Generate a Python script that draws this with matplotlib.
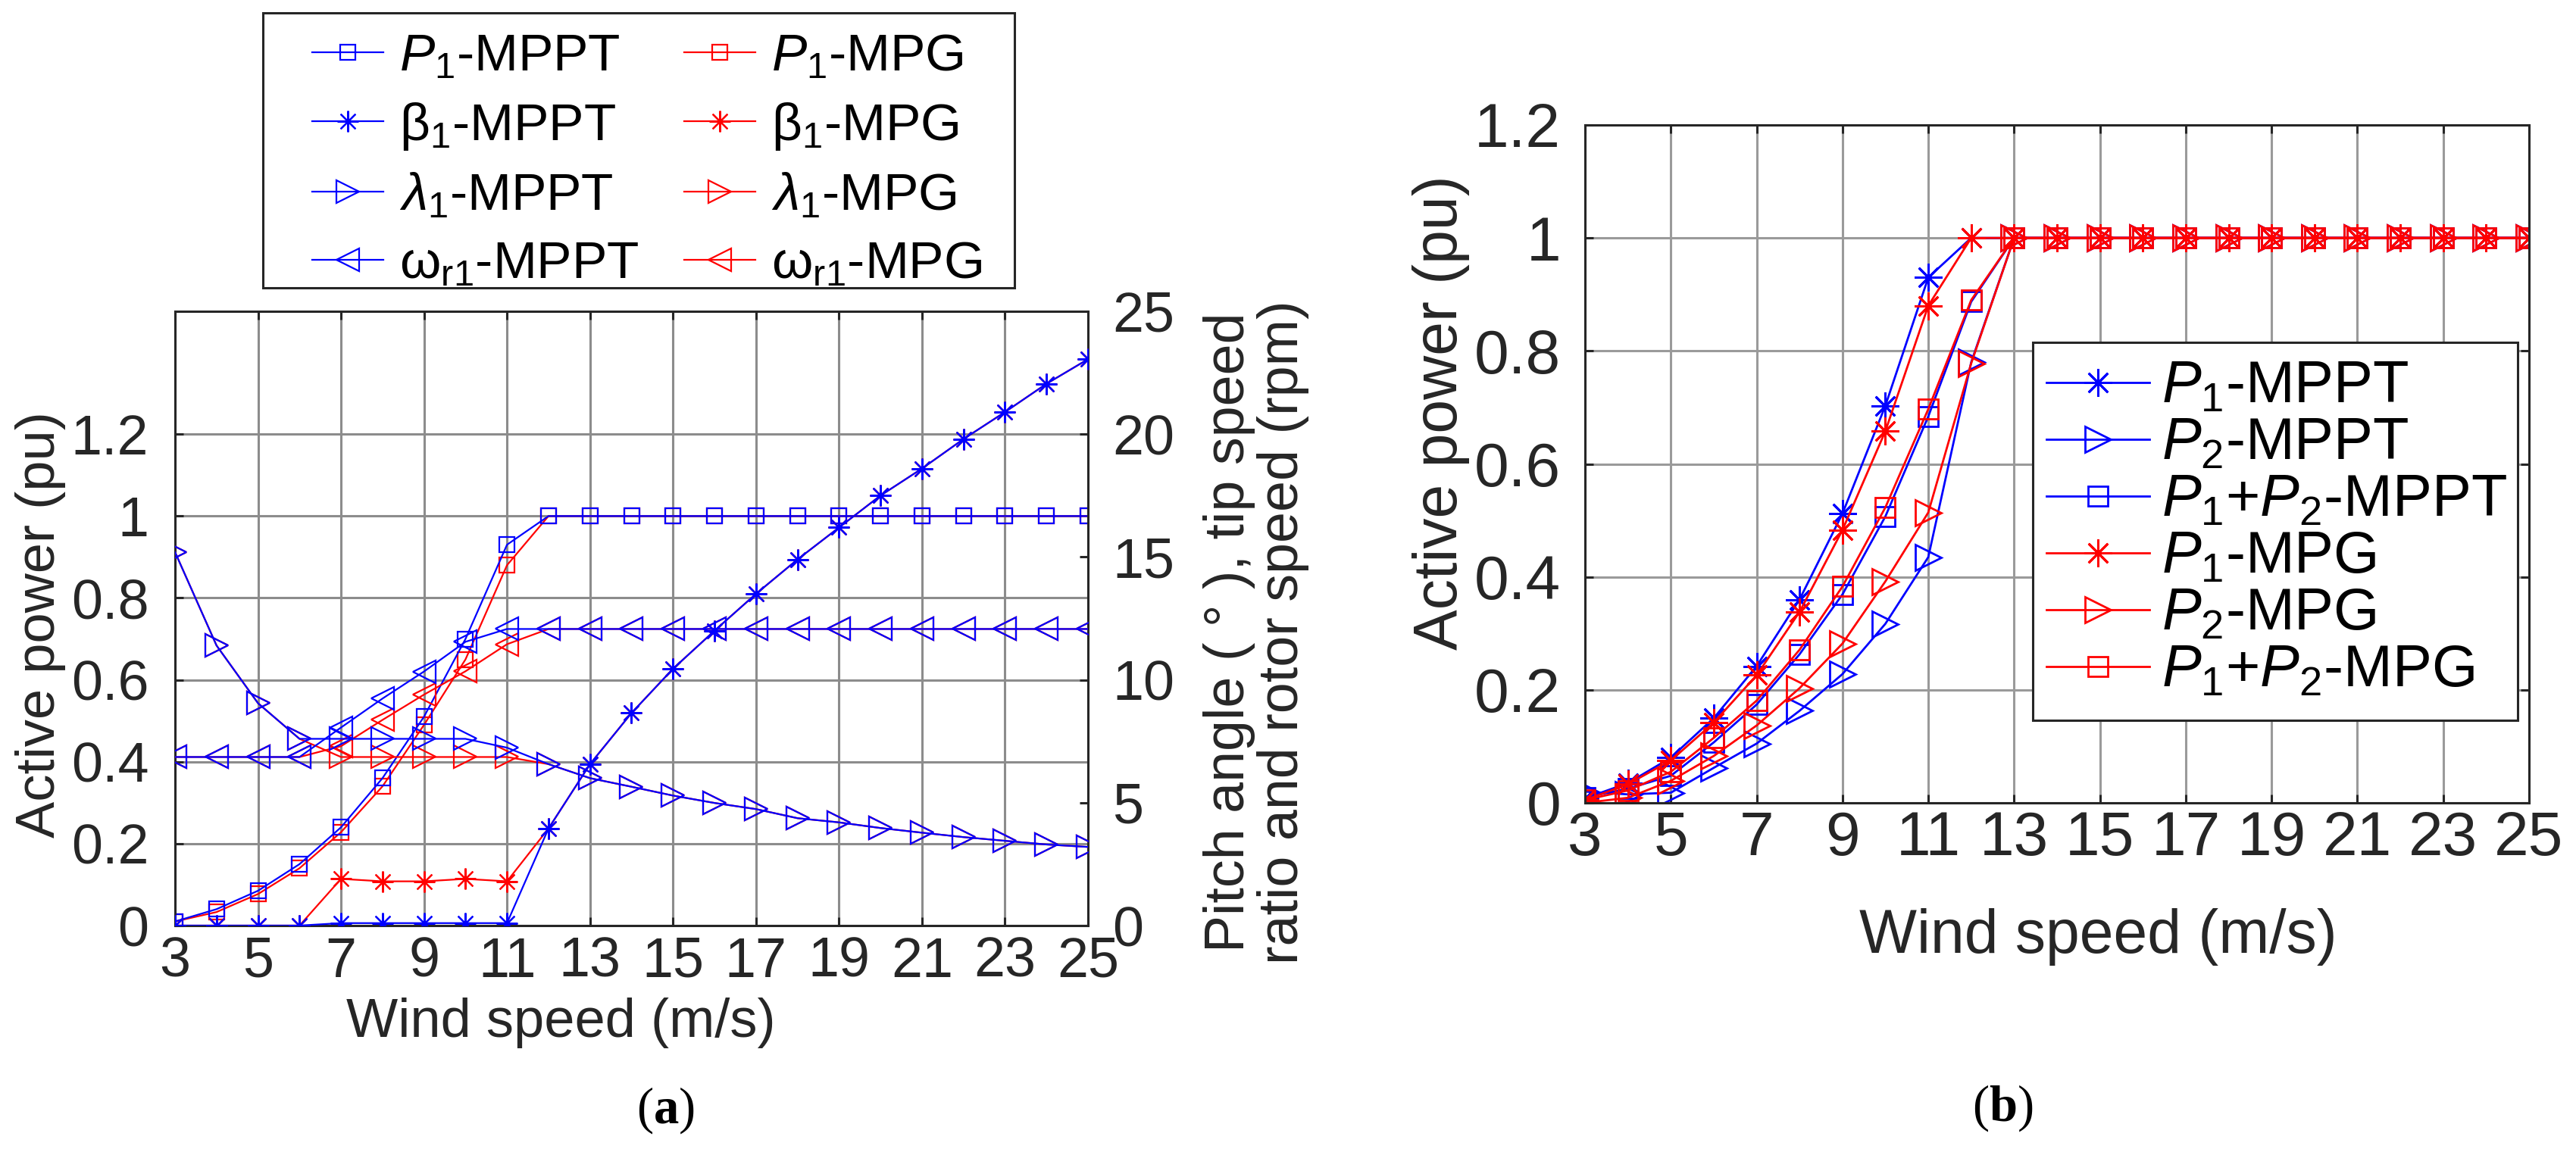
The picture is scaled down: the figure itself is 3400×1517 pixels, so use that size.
import matplotlib
matplotlib.use("Agg")
import matplotlib.pyplot as plt
from matplotlib.patches import Rectangle

plt.rcParams['font.family'] = ['Liberation Sans', 'DejaVu Sans']
plt.rcParams['mathtext.fontset'] = 'custom'
plt.rcParams['mathtext.rm'] = 'Liberation Sans'
plt.rcParams['mathtext.it'] = 'Liberation Sans:italic'
plt.rcParams['mathtext.bf'] = 'Liberation Serif:bold'

# ---------------- data ----------------
wind = list(range(3, 26))
xticks = list(range(3, 26, 2))

# panel (a)
p1_mppt_a = [0.01, 0.04, 0.085, 0.15, 0.24, 0.36, 0.51, 0.70, 0.93,
             1, 1, 1, 1, 1, 1, 1, 1, 1, 1, 1, 1, 1, 1]
p1_mpg_a = [0.01, 0.033, 0.077, 0.14, 0.228, 0.34, 0.49, 0.65, 0.88,
            1, 1, 1, 1, 1, 1, 1, 1, 1, 1, 1, 1, 1, 1]
beta_mppt = [0, 0, 0, 0, 0.1, 0.1, 0.1, 0.1, 0.1,
             3.95, 6.57, 8.65, 10.45, 12.0, 13.5, 14.9, 16.2, 17.5, 18.6, 19.8, 20.9, 22.05, 23.05]
beta_mpg = [0, 0, 0, 0, 1.9, 1.8, 1.8, 1.9, 1.8,
            3.95, 6.57, 8.65, 10.45, 12.0, 13.5, 14.9, 16.2, 17.5, 18.6, 19.8, 20.9, 22.05, 23.05]
lam_mppt = [15.2, 11.4, 9.05, 7.6, 7.6, 7.6, 7.6, 7.6, 7.24,
            6.57, 6.0, 5.65, 5.29, 4.99, 4.74, 4.37, 4.2, 3.97, 3.78, 3.6, 3.45, 3.3, 3.2]
lam_mpg = [15.2, 11.4, 9.05, 7.6, 6.86, 6.86, 6.86, 6.86, 6.86,
           6.57, 6.0, 5.65, 5.29, 4.99, 4.74, 4.37, 4.2, 3.97, 3.78, 3.6, 3.45, 3.3, 3.2]
omg_mppt = [6.86, 6.86, 6.86, 6.86, 8.06, 9.24, 10.34, 11.55, 12.07,
            12.07, 12.07, 12.07, 12.07, 12.07, 12.07, 12.07, 12.07, 12.07, 12.07, 12.07, 12.07, 12.07, 12.07]
omg_mpg = [6.86, 6.86, 6.86, 6.86, 7.3, 8.37, 9.4, 10.35, 11.45,
           12.07, 12.07, 12.07, 12.07, 12.07, 12.07, 12.07, 12.07, 12.07, 12.07, 12.07, 12.07, 12.07, 12.07]

# panel (b)
p1_mppt_b = [0.008, 0.035, 0.08, 0.15, 0.242, 0.36, 0.512, 0.703, 0.93,
             1, 1, 1, 1, 1, 1, 1, 1, 1, 1, 1, 1, 1, 1]
p2_mppt_b = [0.02, 0.015, 0.018, 0.062, 0.105, 0.163, 0.228, 0.317, 0.435, 0.78,
             1, 1, 1, 1, 1, 1, 1, 1, 1, 1, 1, 1, 1]
p12_mppt_b = [0.01, 0.025, 0.048, 0.107, 0.174, 0.263, 0.369, 0.507, 0.684, 0.887,
              1, 1, 1, 1, 1, 1, 1, 1, 1, 1, 1, 1, 1]
p1_mpg_b = [0.005, 0.033, 0.075, 0.142, 0.226, 0.338, 0.483, 0.658, 0.88,
            1, 1, 1, 1, 1, 1, 1, 1, 1, 1, 1, 1, 1, 1]
p2_mpg_b = [0.0, 0.009, 0.039, 0.083, 0.137, 0.203, 0.282, 0.392, 0.514, 0.778,
            1, 1, 1, 1, 1, 1, 1, 1, 1, 1, 1, 1, 1]
p12_mpg_b = [0.005, 0.022, 0.055, 0.115, 0.181, 0.271, 0.383, 0.523, 0.697, 0.89,
             1, 1, 1, 1, 1, 1, 1, 1, 1, 1, 1, 1, 1]

left_ticks = [0, 0.2, 0.4, 0.6, 0.8, 1.0, 1.2]
left_labels = ['0', '0.2', '0.4', '0.6', '0.8', '1', '1.2']
right_ticks = [0, 5, 10, 15, 20, 25]

labels_a = [r'$P_1$-MPPT', r'$\mathrm{\beta}_1$-MPPT', r'$\mathit{\lambda}_1$-MPPT', r'$\mathrm{\omega}_{\mathrm{r1}}$-MPPT',
            r'$P_1$-MPG', r'$\mathrm{\beta}_1$-MPG', r'$\mathit{\lambda}_1$-MPG', r'$\mathrm{\omega}_{\mathrm{r1}}$-MPG']
labels_b = [r'$P_1$-MPPT', r'$P_2$-MPPT', r'$P_1$+$P_2$-MPPT',
            r'$P_1$-MPG', r'$P_2$-MPG', r'$P_1$+$P_2$-MPG']

# ---------------- figure ----------------
W, H = 3400, 1517
fig = plt.figure(figsize=(W / 100, H / 100), dpi=100)
TXT = '#262626'
AST = (8, 2, 0)


def fx(px):
    return px / W


def fy(py):
    return 1 - py / H


def style_axes(ax, fs, xpad, ypad, gridc):
    for s in ax.spines.values():
        s.set_linewidth(2.2)
        s.set_color(TXT)
    ax.tick_params(axis='both', direction='in', length=8, width=2.2, colors=TXT,
                   labelsize=fs, top=True)
    ax.tick_params(axis='x', pad=xpad)
    ax.tick_params(axis='y', pad=ypad)
    ax.set_axisbelow(True)
    ax.grid(True, color=gridc, linewidth=2.2)


# ----- panel (a) -----
axa = fig.add_axes([fx(231), fy(1222), fx(1205), 811 / H])
axa2 = axa.twinx()
blue, red = (0, 0, 1), (1, 0, 0)
lwa, mewa = 1.6, 1.6

axa.plot(wind, p1_mpg_a, color=red, marker='s', ms=15, mfc='none', lw=lwa, mew=mewa)
hP1 = axa.plot(wind, p1_mppt_a, color=blue, marker='s', ms=15, mfc='none', lw=lwa, mew=mewa)[0]
hP1g = axa.plot([], [], color=red, marker='s', ms=15, mfc='none', lw=lwa, mew=mewa)[0]

axa2.plot(wind, beta_mpg, color=red, marker=AST, ms=20, lw=lwa, mew=mewa)
axa2.plot(wind, lam_mpg, color=red, marker='>', ms=22, mfc='none', lw=lwa, mew=mewa)
axa2.plot(wind, omg_mpg, color=red, marker='<', ms=22, mfc='none', lw=lwa, mew=mewa)
hB = axa2.plot(wind, beta_mppt, color=blue, marker=AST, ms=20, lw=lwa, mew=mewa)[0]
hL = axa2.plot(wind, lam_mppt, color=blue, marker='>', ms=22, mfc='none', lw=lwa, mew=mewa)[0]
hO = axa2.plot(wind, omg_mppt, color=blue, marker='<', ms=22, mfc='none', lw=lwa, mew=mewa)[0]
hBg = axa2.plot([], [], color=red, marker=AST, ms=20, lw=lwa, mew=mewa)[0]
hLg = axa2.plot([], [], color=red, marker='>', ms=22, mfc='none', lw=lwa, mew=mewa)[0]
hOg = axa2.plot([], [], color=red, marker='<', ms=22, mfc='none', lw=lwa, mew=mewa)[0]

axa.set_xlim(3, 25)
axa.set_ylim(0, 1.5)
axa2.set_ylim(0, 25)
axa.set_xticks(xticks)
axa.set_yticks(left_ticks)
axa.set_yticklabels(left_labels)
axa2.set_yticks(right_ticks)
style_axes(axa, 53, 10, 25, '#8c8c8c')
axa.tick_params(axis='y', right=False)
for s in axa2.spines.values():
    s.set_visible(False)
axa2.tick_params(axis='y', direction='in', length=8, width=2.2, colors=TXT, labelsize=53, pad=23)

fig.text(fx(54), fy(825), 'Active power (pu)', rotation=90, ha='center', va='center',
         fontsize=52, color=TXT)
fig.text(fx(740), fy(1350), 'Wind speed (m/s)', ha='center', va='center', fontsize=52, color=TXT)
fig.text(fx(1658), fy(835), 'Pitch angle ( ° ), tip speed\nratio and rotor speed (rpm)',
         rotation=90, ha='center', va='center', multialignment='center', fontsize=53,
         color=TXT, linespacing=1.02)

hand_a = [hP1, hB, hL, hO, hP1g, hBg, hLg, hOg]
lega = fig.legend(hand_a, labels_a, ncol=2, loc='upper left',
                  bbox_to_anchor=(fx(412), fy(43)), frameon=False, fontsize=50,
                  handlelength=1.36, handletextpad=0.3, columnspacing=0.85,
                  labelspacing=0.37, borderpad=0, borderaxespad=0)
fig.add_artist(Rectangle((fx(347), fy(380)), fx(1339 - 347), (380 - 17) / H,
                         transform=fig.transFigure, fill=False, ec=TXT, lw=2.2))

# ----- panel (b) -----
axb = fig.add_axes([fx(2092), fy(1060), fx(1246), 895 / H])
lwb, mewb = 2.0, 2.0
h1 = axb.plot(wind, p1_mppt_b, color=blue, marker=AST, ms=26, lw=lwb, mew=mewb)[0]
h2 = axb.plot(wind, p2_mppt_b, color=blue, marker='>', ms=25, mfc='none', lw=lwb, mew=mewb)[0]
h3 = axb.plot(wind, p12_mppt_b, color=blue, marker='s', ms=19, mfc='none', lw=lwb, mew=mewb)[0]
h4 = axb.plot(wind, p1_mpg_b, color=red, marker=AST, ms=26, lw=lwb, mew=mewb)[0]
h5 = axb.plot(wind, p2_mpg_b, color=red, marker='>', ms=25, mfc='none', lw=lwb, mew=mewb)[0]
h6 = axb.plot(wind, p12_mpg_b, color=red, marker='s', ms=19, mfc='none', lw=lwb, mew=mewb)[0]
axb.set_xlim(3, 25)
axb.set_ylim(0, 1.2)
axb.set_xticks(xticks)
axb.set_yticks(left_ticks)
axb.set_yticklabels(left_labels)
style_axes(axb, 59, 7, 23, '#9a9a9a')
axb.tick_params(axis='y', right=True)

fig.text(fx(1902), fy(545), 'Active power (pu)', rotation=90, ha='center', va='center',
         fontsize=58, color=TXT)
fig.text(fx(2769), fy(1237), 'Wind speed (m/s)', ha='center', va='center', fontsize=58, color=TXT)

axb.add_artist(Rectangle((fx(2683), fy(951)), fx(3323 - 2683), (951 - 452) / H,
                         transform=fig.transFigure, fc='white', ec=TXT, lw=2.2,
                         zorder=4, clip_on=False))
legb = axb.legend([h1, h2, h3, h4, h5, h6], labels_b, loc='upper left',
                  bbox_to_anchor=(fx(2701), fy(475)), bbox_transform=fig.transFigure,
                  frameon=False, fontsize=56, handlelength=1.75, handletextpad=0.2,
                  labelspacing=0.025, borderpad=0, borderaxespad=0)
legb.set_zorder(5)

# sub-figure captions
fig.text(fx(878), fy(1466), r'($\mathbf{a}$)', family='Liberation Serif', ha='center',
         va='center', fontsize=48, color='black')
fig.text(fx(2643), fy(1463), r'($\mathbf{b}$)', family='Liberation Serif', ha='center',
         va='center', fontsize=48, color='black')

fig.savefig('out.png', dpi=100)
